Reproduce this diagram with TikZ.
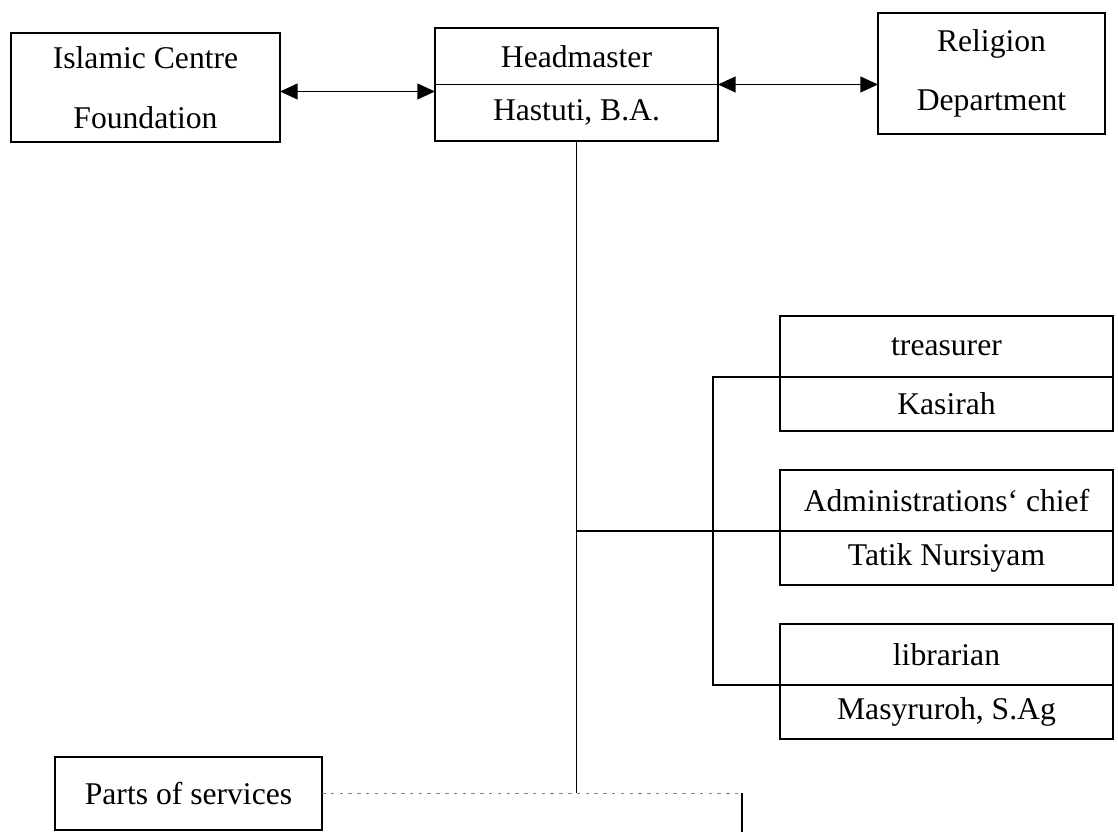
\documentclass[tikz,border=0pt]{standalone}
\usepackage{fontspec}
\setmainfont{Liberation Serif}
\usetikzlibrary{arrows.meta, positioning, calc}

\begin{document}
\begin{tikzpicture}[
    unit/.style={draw, line width=0.8pt, outer sep=0pt, inner sep=2pt, font=\fontsize{18}{34}\selectfont, align=center},
    topbox/.style={unit, anchor=north west},
    rolebox/.style={unit, minimum width=6.66cm, minimum height=1.22cm},
    namebox/.style={unit, minimum width=6.66cm, minimum height=1.08cm},
    link/.style={{Triangle[length=10pt,width=9pt]}-{Triangle[length=10pt,width=9pt]}, line width=0.8pt},
    branch/.style={line width=0.8pt},
    faint/.style={line width=0.7pt, gray, dash pattern=on 2pt off 3pt}
]
    \useasboundingbox (0,0) rectangle (22.36,-16.64);

    % Nodes - top row
    \node[topbox, minimum width=5.38cm, minimum height=2.18cm] (centre) at (0.22,-0.66) {Islamic Centre\\Foundation};
    \node[topbox, minimum width=5.66cm, minimum height=1.13cm] (head) at (8.70,-0.56) {Headmaster};
    \node[unit, minimum width=5.66cm, minimum height=1.13cm, below=0pt of head] (hastuti) {Hastuti, B.A.};
    \node[topbox, minimum width=4.54cm, minimum height=2.42cm] (religion) at (17.56,-0.26) {Religion\\Department};

    % Nodes - right column
    \node[rolebox, anchor=north west] (treasurer) at (15.60,-6.32) {treasurer};
    \node[namebox, below=0pt of treasurer] (kasirah) {Kasirah};
    \node[rolebox, below=0.78cm of kasirah] (admin) {Administrations` chief};
    \node[namebox, below=0pt of admin] (tatik) {Tatik Nursiyam};
    \node[rolebox, below=0.78cm of tatik] (librarian) {librarian};
    \node[namebox, below=0pt of librarian] (masyruroh) {Masyruroh, S.Ag};

    % Nodes - bottom
    \node[topbox, minimum width=5.34cm, minimum height=1.46cm] (services) at (1.10,-15.14) {Parts of services};
    \coordinate (join) at (hastuti.south |- services.east);
    \coordinate (turn) at (14.84,0 |- services.east);
    \coordinate (drop) at (14.84,-16.64);

    % Arrows
    \draw[link] ([yshift=-0.08cm]centre.east) -- ([yshift=-0.08cm]centre.east -| head.west);
    \draw[link] (head.south east) -- (head.south east -| religion.west);

    % Lines
    \draw[branch] (hastuti.south) -- (join);
    \draw[branch] (admin.south west) -- (admin.south west -| hastuti.south);
    \draw[branch] (treasurer.south west) -- ++(-1.34,0) |- (librarian.south west);
    \draw[faint] (services.east) -- (turn);
    \draw[branch] (turn) -- (drop);
\end{tikzpicture}
\end{document}
